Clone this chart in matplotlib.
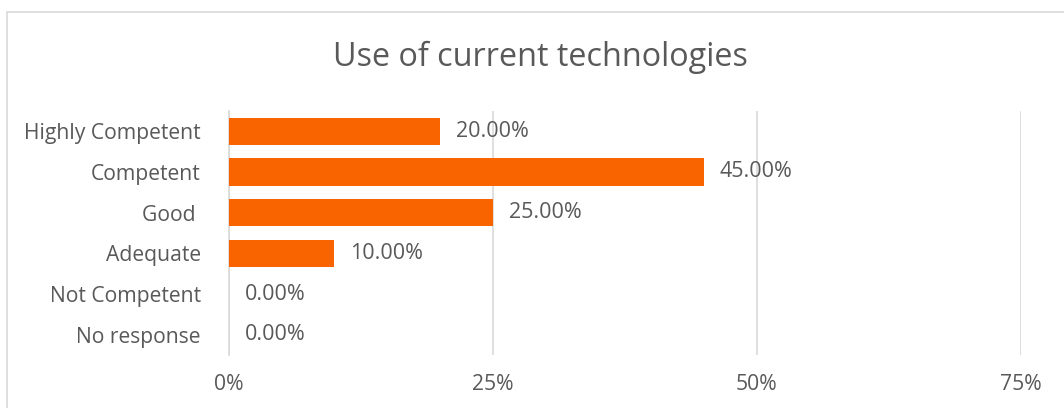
import matplotlib
matplotlib.use('Agg')
import matplotlib.pyplot as plt
from matplotlib.patches import Rectangle

categories = ['Highly Competent', 'Competent', 'Good ', 'Adequate', 'Not Competent', 'No response']
values = [20.0, 45.0, 25.0, 10.0, 0.0, 0.0]
xticks = [0, 25, 50, 75]
title = 'Use of current technologies'

plt.rcParams['font.family'] = ['Open Sans', 'DejaVu Sans']
txt = '#595959'
grid = '#D9D9D9'
bar_col = '#FA6400'

fig = plt.figure(figsize=(10.64, 4.08), dpi=100)
ax = fig.add_axes([228.5 / 1064, 53 / 408, (1020.7 - 228.5) / 1064, 244 / 408])

# chart border (cut off at right and bottom)
fig.patches.append(Rectangle((7 / 1064, -0.1), 1.2, (408 - 12) / 408 + 0.1,
                             transform=fig.transFigure, fill=False,
                             edgecolor=grid, linewidth=1.2))

y = list(range(len(categories)))
ax.barh(y, values, height=0.68, color=bar_col, zorder=3)
for yi, v in zip(y, values):
    ax.annotate(f'{v:.2f}%', (v, yi), xytext=(11.5, 0), textcoords='offset points',
                va='center', ha='left', fontsize=15.5, color=txt)

ax.set_xlim(0, 75)
ax.set_ylim(len(categories) - 0.5, -0.5)
ax.set_yticks(y)
ax.set_yticklabels(categories)
ax.set_xticks(xticks)
ax.set_xticklabels([f'{t}%' for t in xticks])
ax.tick_params(axis='both', length=0, labelcolor=txt)
ax.tick_params(axis='x', labelsize=15.2, pad=14)
ax.tick_params(axis='y', labelsize=15.2, pad=20)
ax.grid(axis='x', color=grid, linewidth=1.2, zorder=0)
for s in ['top', 'right', 'bottom']:
    ax.spines[s].set_visible(False)
ax.spines['left'].set_color(grid)
ax.spines['left'].set_linewidth(1.2)

fig.text(0.508, 1 - 57 / 408, title, ha='center', va='center', fontsize=23.3, color=txt)

fig.savefig('out.png', dpi=100)
